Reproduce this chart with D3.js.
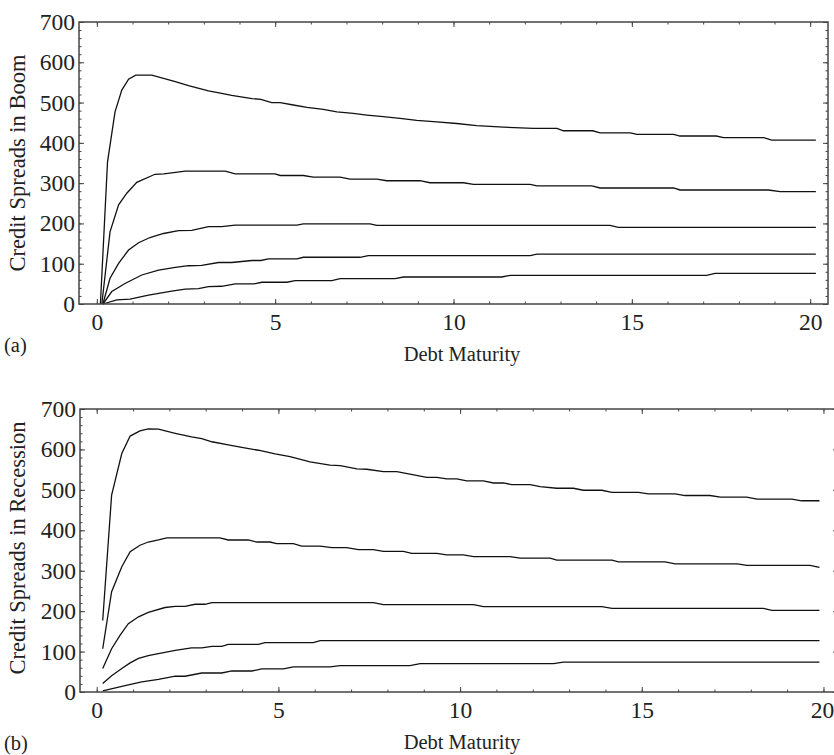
<!DOCTYPE html>
<html>
<head>
<meta charset="utf-8">
<script src="https://cdn.jsdelivr.net/npm/d3@7"></script>
<style>
  body { margin: 0; background: #fff; }
  text { font-family: "Liberation Serif", "Times New Roman", serif; fill: #222; }
</style>
</head>
<body>
<div id="chart"></div>
<script>
// Data: [debt maturity, credit spread]
// ============================================================================
const boom1 = [[0.1,0],[0.3,353],[0.51,477],[0.7,531],[0.89,558],[1.09,568],[1.54,568],[2.2,552],[2.57,542],[3.13,529],[3.5,523],[3.78,518],[4.35,510],[4.6,508],[4.9,500],[5.14,500],[5.51,494],[5.89,488],[6.35,483],[6.73,477],[7.19,473],[7.57,469],[8.03,465],[8.5,461],[8.97,456],[9.53,452],[10.09,448],[10.65,443],[11.4,439],[12.24,436],[12.9,436],[13.08,430],[13.9,430],[14.11,425],[14.96,425],[15.14,421],[16.17,421],[16.35,417],[17.37,417],[17.57,413],[18.7,413],[18.92,407],[20.16,407]];
const boom2 = [[0.14,0],[0.37,179],[0.61,246],[0.84,275],[1.12,302],[1.63,322],[1.88,323],[2.48,330],[3.6,330],[3.88,323],[5.0,323],[5.14,319],[5.79,319],[6.07,315],[6.82,315],[7.1,310],[7.85,310],[8.13,306],[9.06,306],[9.34,301],[10.28,301],[10.56,297],[12.15,297],[12.34,293],[13.88,293],[14.11,288],[16.17,288],[16.35,283],[18.83,283],[19.16,279],[20.16,279]];
const boom3 = [[0.17,0],[0.37,64],[0.61,101],[0.89,134],[1.17,152],[1.49,165],[1.87,175],[2.29,182],[2.66,183],[3.13,192],[3.5,192],[3.88,196],[5.61,196],[5.79,199],[7.66,199],[7.85,195],[14.39,195],[14.62,190],[20.16,190]];
const boom4 = [[0.17,0],[0.42,31],[0.79,51],[1.26,72],[1.73,84],[2.2,91],[2.57,95],[2.94,96],[3.41,103],[3.78,103],[4.35,108],[4.6,108],[4.81,112],[5.61,112],[5.79,116],[7.38,116],[7.61,120],[12.15,120],[12.34,124],[20.16,124]];
const boom5 = [[0.17,0],[0.56,10],[0.93,12],[1.45,22],[2.1,32],[2.48,37],[2.85,38],[3.13,43],[3.5,44],[3.88,50],[4.4,50],[4.63,54],[5.33,54],[5.56,58],[6.59,58],[6.82,63],[8.36,63],[8.6,67],[11.35,67],[11.59,71],[17.1,71],[17.33,76],[20.16,76]];

const rec1 = [[0.165,177],[0.41,487],[0.69,590],[0.92,633],[1.19,646],[1.42,651],[1.7,650],[2.16,640],[2.61,631],[2.89,627],[3.17,619],[3.62,611],[3.99,605],[4.45,598],[4.91,589],[5.32,582],[5.87,569],[6.42,561],[6.7,560],[7.16,552],[7.43,551],[7.89,545],[8.26,545],[8.62,539],[9.08,531],[9.36,531],[9.63,527],[9.91,527],[10.18,522],[10.64,522],[10.92,517],[11.19,517],[11.42,513],[11.93,513],[12.2,508],[12.66,504],[13.12,504],[13.39,499],[13.9,499],[14.18,494],[14.91,494],[15.18,490],[15.92,490],[16.19,486],[16.88,486],[17.16,482],[17.89,482],[18.17,477],[19.13,477],[19.4,473],[19.89,473]];
const rec2 = [[0.165,107],[0.41,248],[0.69,310],[0.92,347],[1.19,363],[1.42,371],[1.7,376],[1.93,381],[3.39,381],[3.62,376],[4.17,376],[4.4,371],[4.77,371],[4.95,367],[5.41,367],[5.64,361],[6.15,361],[6.47,357],[6.88,357],[7.2,352],[7.61,352],[7.89,348],[8.44,348],[8.67,343],[9.36,343],[9.63,339],[10.09,339],[10.37,335],[11.38,335],[11.65,331],[12.48,331],[12.66,326],[14.18,326],[14.36,322],[15.64,322],[15.92,317],[17.63,317],[17.89,313],[19.63,313],[19.89,308]];
const rec3 = [[0.165,58],[0.41,107],[0.64,140],[0.87,169],[1.15,186],[1.42,197],[1.88,209],[2.16,212],[2.43,212],[2.71,217],[2.98,217],[3.17,221],[7.61,221],[7.89,216],[10.37,216],[10.64,211],[13.9,211],[14.18,207],[18.35,207],[18.58,202],[19.89,202]];
const rec4 = [[0.165,21],[0.41,40],[0.69,58],[0.92,72],[1.15,83],[1.42,90],[1.7,95],[2.16,103],[2.61,109],[2.89,109],[3.17,113],[3.44,113],[3.62,118],[4.45,118],[4.63,122],[5.96,122],[6.15,127],[19.89,127]];
const rec5 = [[0.165,3],[0.78,16],[1.24,25],[1.7,31],[2.16,39],[2.43,39],[2.89,47],[3.44,47],[3.72,52],[4.27,52],[4.54,57],[5.14,57],[5.41,62],[6.42,62],[6.7,65],[8.62,65],[8.9,70],[12.57,70],[12.84,74],[19.89,74]];

const xMajor = [0, 5, 10, 15, 20],
    xMinor = d3.range(0, 21, 1),
    yMajor = d3.range(0, 701, 100),
    yMinor = d3.range(0, 701, 20);

// Layout
// ============================================================================
const width = 834,
    height = 755;

const panels = [
    {series: [boom1, boom2, boom3, boom4, boom5], yLabel: "Credit Spreads in Boom", tag: "(a)",
     xDomain: [-0.5, 20.5], left: 79, right: 828, top: 22, bottom: 304,
     titleY: 163, xLabelY: 361, tagY: 352},
    {series: [rec1, rec2, rec3, rec4, rec5], yLabel: "Credit Spreads in Recession", tag: "(b)",
     xDomain: [-0.46, 20.4], left: 80, right: 838, top: 409, bottom: 692,
     titleY: 548, xLabelY: 749, tagY: 750},
];

let svg = d3.select("#chart")
    .append("svg")
        .attr("width", width)
        .attr("height", height);

panels.forEach(p => {
    let xScale = d3.scaleLinear().domain(p.xDomain).range([p.left, p.right]);
    let yScale = d3.scaleLinear().domain([0, 700]).range([p.bottom, p.top]);

    let g = svg.append("g");

    // Curves
    const line = d3.line().x(d => xScale(d[0])).y(d => yScale(d[1]));
    g.selectAll("path.curve")
        .data(p.series)
        .enter()
        .append("path")
            .attr("class", "curve")
            .attr("d", line)
            .attr("fill", "none")
            .attr("stroke", "#111")
            .attr("stroke-width", 1.3);

    // Frame ticks (all pointing inward)
    const tickStyle = sel => {
        sel.select(".domain").remove();
        sel.selectAll(".tick line").attr("stroke", "#444").attr("stroke-width", 1);
    };

    g.append("g").attr("transform", "translate(0," + p.bottom + ")")
        .call(d3.axisBottom(xScale).tickValues(xMinor).tickSize(-2.5).tickFormat(""))
        .call(tickStyle);
    g.append("g").attr("transform", "translate(0," + p.bottom + ")")
        .call(d3.axisBottom(xScale).tickValues(xMajor).tickSize(-5).tickPadding(9))
        .call(tickStyle)
        .selectAll("text")
            .style("font-size", "23.5px")
            .attr("font-family", null)
            // keep the last label inside the window
            .attr("dx", d => xScale(d) + 12 > width ? width - 12 - xScale(d) : 0);

    g.append("g").attr("transform", "translate(0," + p.top + ")")
        .call(d3.axisTop(xScale).tickValues(xMinor).tickSize(-2.5).tickFormat(""))
        .call(tickStyle);
    g.append("g").attr("transform", "translate(0," + p.top + ")")
        .call(d3.axisTop(xScale).tickValues(xMajor).tickSize(-5).tickFormat(""))
        .call(tickStyle);

    g.append("g").attr("transform", "translate(" + p.left + ",0)")
        .call(d3.axisLeft(yScale).tickValues(yMinor).tickSize(-2.5).tickFormat(""))
        .call(tickStyle);
    g.append("g").attr("transform", "translate(" + p.left + ",0)")
        .call(d3.axisLeft(yScale).tickValues(yMajor).tickSize(-5).tickPadding(4))
        .call(tickStyle)
        .selectAll("text").style("font-size", "23.5px").attr("font-family", null);

    g.append("g").attr("transform", "translate(" + p.right + ",0)")
        .call(d3.axisRight(yScale).tickValues(yMinor).tickSize(-2.5).tickFormat(""))
        .call(tickStyle);
    g.append("g").attr("transform", "translate(" + p.right + ",0)")
        .call(d3.axisRight(yScale).tickValues(yMajor).tickSize(-5).tickFormat(""))
        .call(tickStyle);

    // Frame
    g.append("rect")
        .attr("x", p.left)
        .attr("y", p.top)
        .attr("width", p.right - p.left)
        .attr("height", p.bottom - p.top)
        .attr("fill", "none")
        .attr("stroke", "#444")
        .attr("stroke-width", 1.5);

    // Labels
    g.append("text")
        .attr("transform", "translate(25," + p.titleY + ") rotate(-90)")
        .attr("text-anchor", "middle")
        .style("font-size", "22.5px")
        .text(p.yLabel);

    g.append("text")
        .attr("x", 462)
        .attr("y", p.xLabelY)
        .attr("text-anchor", "middle")
        .style("font-size", "20.5px")
        .text("Debt Maturity");

    g.append("text")
        .attr("x", 4)
        .attr("y", p.tagY)
        .style("font-size", "20.5px")
        .text(p.tag);
});
</script>
</body>
</html>
